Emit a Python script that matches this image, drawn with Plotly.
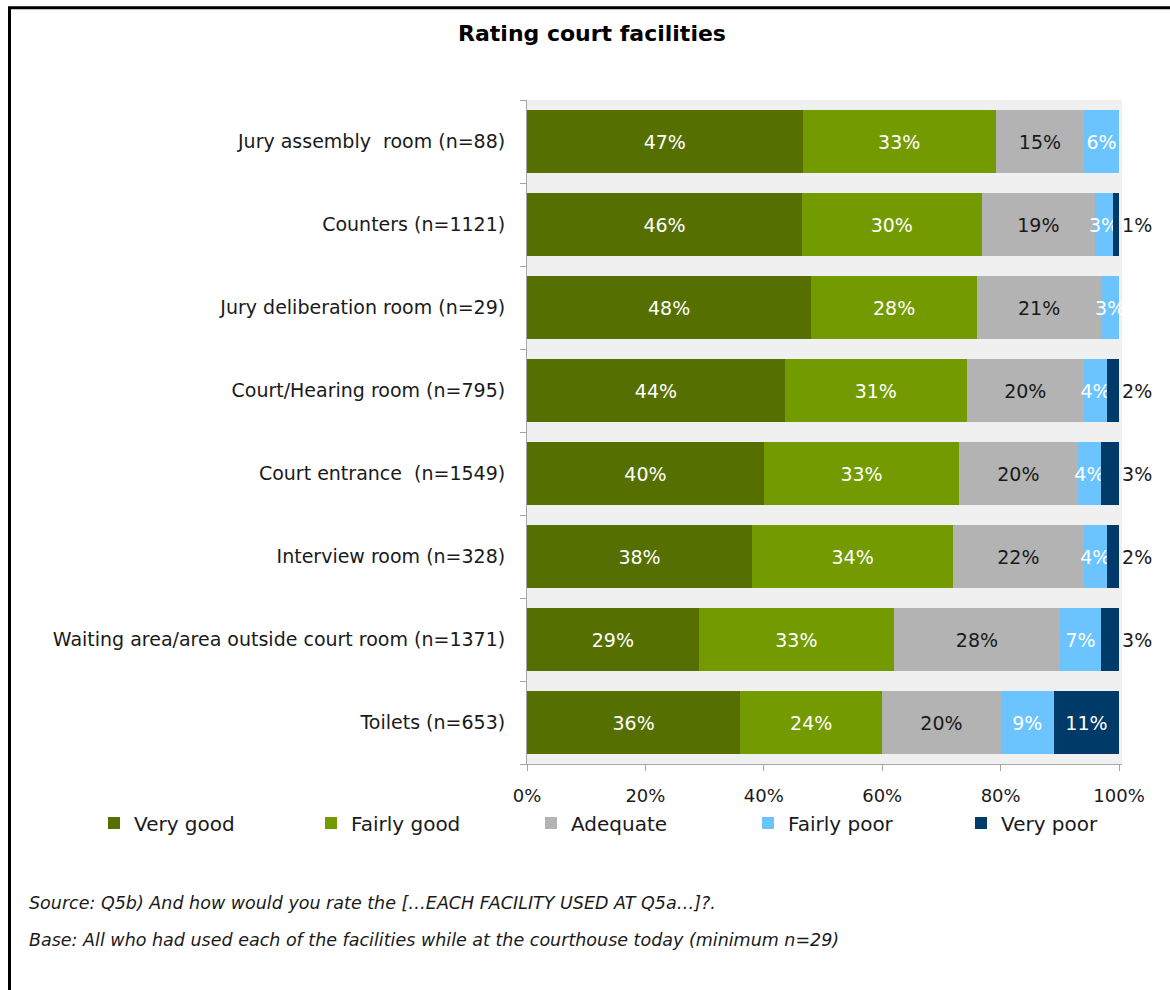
import plotly.graph_objects as go

# Facilities (top to bottom) and the share giving each rating (%)
facilities = [
    "Jury assembly  room (n=88)",
    "Counters (n=1121)",
    "Jury deliberation room (n=29)",
    "Court/Hearing room (n=795)",
    "Court entrance  (n=1549)",
    "Interview room (n=328)",
    "Waiting area/area outside court room (n=1371)",
    "Toilets (n=653)",
]
very_good = [47, 46, 48, 44, 40, 38, 29, 36]
fairly_good = [33, 30, 28, 31, 33, 34, 33, 24]
adequate = [15, 19, 21, 20, 20, 22, 28, 20]
fairly_poor = [6, 3, 3, 4, 4, 4, 7, 9]
very_poor = [None, 1, None, 2, 3, 2, 3, 11]

x_ticks = [0, 20, 40, 60, 80, 100]
x_tick_labels = ["0%", "20%", "40%", "60%", "80%", "100%"]

series = [
    ("Very good", very_good, "#557000", "white"),
    ("Fairly good", fairly_good, "#739b00", "white"),
    ("Adequate", adequate, "#b3b3b3", "#1a1a1a"),
    ("Fairly poor", fairly_poor, "#6cc4ff", "white"),
    ("Very poor", very_poor, "#003a69", "white"),
]

FONT = "DejaVu Sans"
W, H = 1170, 990
L, R, T, B = 527, 1122, 100, 764
pw, ph = R - L, B - T


def px_x(x):
    return (x - L) / pw


def px_y(y):
    return (B - y) / ph


# left edge (px) of each legend entry along the bottom row
legend_left_px = [94, 311, 531, 748, 961]

fig = go.Figure()
for i, (name, vals, color, txtcol) in enumerate(series):
    labels = [f"{v}%" if v else "" for v in vals]
    if name == "Very poor":
        positions = ["inside" if (v or 0) >= 8 else "outside" for v in vals]
    else:
        positions = "inside"
    fig.add_trace(go.Bar(
        y=facilities,
        x=vals,
        name=name,
        orientation="h",
        marker=dict(color=color, line=dict(width=0)),
        text=labels,
        textposition=positions,
        textangle=0,
        insidetextanchor="middle",
        insidetextfont=dict(color=txtcol, size=19, family=FONT),
        outsidetextfont=dict(color="#1a1a1a", size=19, family=FONT),
        cliponaxis=False,
        constraintext="none",
        hoverinfo="skip",
        legend="legend" if i == 0 else f"legend{i + 1}",
    ))

legend_style = dict(
    orientation="h",
    xref="container", yref="container",
    xanchor="left",
    y=1 - 823 / H, yanchor="middle",
    font=dict(size=20, family=FONT, color="#1a1a1a"),
    bgcolor="rgba(0,0,0,0)",
    itemclick=False,
    itemwidth=30,
)
legends = {}
for i, lx in enumerate(legend_left_px):
    key = "legend" if i == 0 else f"legend{i + 1}"
    legends[key] = dict(legend_style, x=lx / W)

fig.update_layout(
    width=W,
    height=H,
    barmode="stack",
    barnorm="percent",
    bargap=0.235,
    margin=dict(l=L, r=W - R, t=T, b=H - B, pad=0, autoexpand=False),
    paper_bgcolor="white",
    plot_bgcolor="#f0f0f0",
    font=dict(family=FONT, size=19, color="#1a1a1a"),
    uniformtext=dict(minsize=19, mode="show"),
    title=dict(
        text="<b>Rating court facilities</b>",
        x=592 / W, xanchor="center", xref="container",
        y=1 - 33 / H, yanchor="middle", yref="container",
        font=dict(size=22, family=FONT, color="black"),
    ),
    xaxis=dict(
        range=[0, 100.5],
        tickvals=x_ticks,
        ticktext=x_tick_labels,
        showgrid=False,
        zeroline=False,
        showline=True,
        linecolor="#a6a6a6",
        linewidth=1,
        ticks="outside",
        ticklen=6,
        tickcolor="#a6a6a6",
        ticklabelstandoff=9,
        tickfont=dict(size=18),
        fixedrange=True,
    ),
    yaxis=dict(
        categoryorder="array",
        categoryarray=facilities[::-1],
        showgrid=False,
        zeroline=False,
        showline=True,
        linecolor="#a6a6a6",
        linewidth=1,
        ticks="outside",
        tickson="boundaries",
        ticklen=6,
        tickcolor="#a6a6a6",
        ticklabelstandoff=17,
        tickfont=dict(size=19),
        fixedrange=True,
    ),
    showlegend=True,
    **legends,
)

# Frame around the chart
fig.add_shape(
    type="rect", xref="paper", yref="paper",
    x0=px_x(9.5), x1=px_x(1300), y0=px_y(7.8), y1=px_y(1100),
    line=dict(color="black", width=3), fillcolor="rgba(0,0,0,0)",
    layer="above",
)

notes = [
    ("Source: Q5b) And how would you rate the […EACH FACILITY USED AT Q5a…]?.", 903),
    ("Base: All who had used each of the facilities while at the courthouse today (minimum n=29)", 940),
]
for txt, ypx in notes:
    fig.add_annotation(
        text=f"<i>{txt}</i>",
        xref="paper", yref="paper",
        x=px_x(27), y=px_y(ypx),
        xanchor="left", yanchor="middle",
        showarrow=False,
        font=dict(size=17.5, family=FONT, color="#1a1a1a"),
    )

fig.write_html("out.html")
